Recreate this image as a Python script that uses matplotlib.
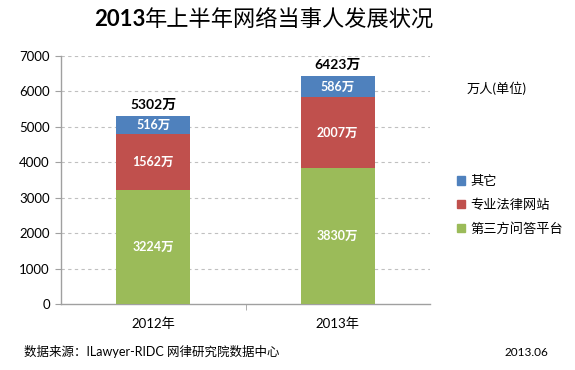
import matplotlib
matplotlib.use("Agg")
import matplotlib.pyplot as plt
from matplotlib.patches import Patch

plt.rcParams['font.family'] = ['Lato', 'Noto Sans CJK SC', 'DejaVu Sans']

years = ['2012年', '2013年']
platform = [3224, 3830]      # 第三方问答平台
legal_sites = [1562, 2007]   # 专业法律网站
other = [516, 586]           # 其它
totals = [5302, 6423]
series_names = ['第三方问答平台', '专业法律网站', '其它']
colors = ['#9BBB59', '#C0504D', '#4F81BD']
yticks = [0, 1000, 2000, 3000, 4000, 5000, 6000, 7000]
title_num = '2013'
title_rest = '年上半年网络当事人发展状况'

fig = plt.figure(figsize=(5.75, 3.7), dpi=100)
ax = fig.add_axes([61/575, 1-304/370, (430-61)/575, (304-55.7)/370])

x = list(range(len(years)))
bottoms = [0]*len(years)
for vals, col in zip([platform, legal_sites, other], colors):
    ax.bar(x, vals, width=0.4, bottom=bottoms, color=col, zorder=3)
    for xi, v, b in zip(x, vals, bottoms):
        ax.text(xi, b + v/2, f'{v}万', ha='center', va='center', color='white',
                fontsize=9, fontweight='bold', zorder=4)
    bottoms = [b + v for b, v in zip(bottoms, vals)]

for xi, t, b in zip(x, totals, bottoms):
    ax.text(xi, b + 320, f'{t}万', ha='center', va='center', color='black',
            fontsize=10, fontweight='bold', zorder=4)

ax.set_xlim(-0.5, 1.5)
ax.set_ylim(0, 7000)
ax.set_yticks(yticks)
ax.set_yticklabels([str(v) for v in yticks], fontsize=9.5)
ax.set_xticks(x)
ax.set_xticklabels(years, fontsize=9.5)
ax.tick_params(axis='x', length=0, pad=10)
ax.set_xticks([0.5], minor=True)
ax.tick_params(axis='x', which='minor', length=4, color='#a0a0a0', direction='out')
ax.tick_params(axis='y', length=4, color='#a0a0a0', pad=4)

for v in yticks[1:]:
    ax.axhline(v, color='#c0c0c0', linestyle=(0, (3, 3)), linewidth=0.8, zorder=1)

for s in ['top', 'right']:
    ax.spines[s].set_visible(False)
for s in ['left', 'bottom']:
    ax.spines[s].set_color('#a0a0a0')
    ax.spines[s].set_linewidth(1)

# Title: bold number + regular CJK text, centered as a whole
renderer = fig.canvas.get_renderer()
ty = 1 - 20/370
t1 = fig.text(0, ty, title_num, ha='left', va='center', fontsize=16, fontweight='bold')
t2 = fig.text(0, ty, title_rest, ha='left', va='center', fontsize=16)
w1 = t1.get_window_extent(renderer).width
w2 = t2.get_window_extent(renderer).width
x0 = 264 - (w1 + w2) / 2
t1.set_x(x0/575)
t2.set_x((x0 + w1)/575)

fig.text(497/575, 1-88/370, '万人(单位)', ha='center', va='center', fontsize=9.5)

handles = [Patch(color=c) for c in colors[::-1]]
fig.legend(handles, series_names[::-1], loc='center left',
           bbox_to_anchor=(445/575, 1-205/370), frameon=False,
           fontsize=9.5, handlelength=0.6, handleheight=0.6,
           handletextpad=0.4, labelspacing=0.85)

fig.text(24/575, 1-352/370, '数据来源：ILawyer-RIDC 网律研究院数据中心', ha='left',
         va='center', fontsize=9)
fig.text(548/575, 1-352/370, '2013.06', ha='right', va='center', fontsize=8.5)

fig.savefig('out.png', dpi=100)
